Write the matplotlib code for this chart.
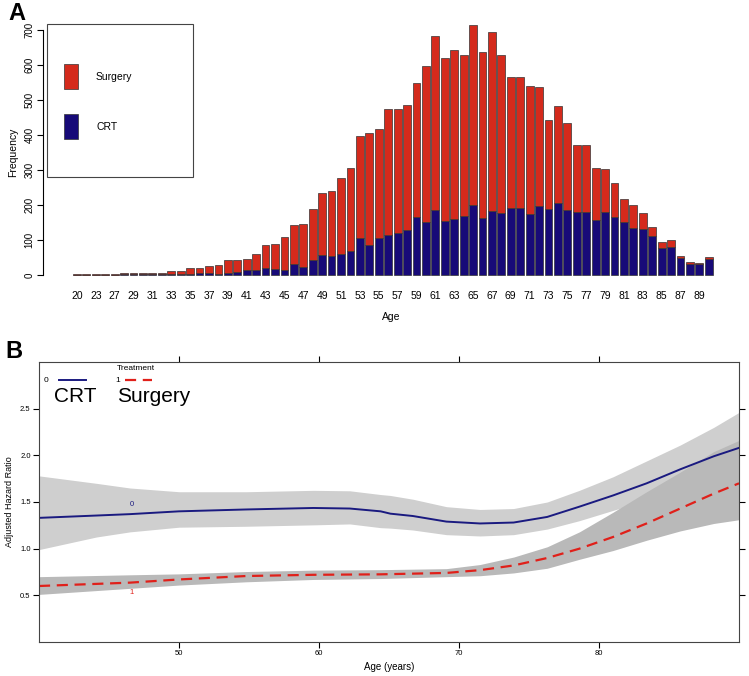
import matplotlib
matplotlib.use('Agg')
import matplotlib.pyplot as plt
import numpy as np

plt.rcParams['font.family'] = ['Liberation Sans', 'DejaVu Sans']

# ---- panel A data: patients by age ----
ages = [20, 21, 23, 25, 27, 28, 29, 30, 31, 32, 33, 34, 35, 36, 37, 38, 39, 40, 41, 42,
        43, 44, 45, 46, 47, 48, 49, 50, 51, 52, 53, 54, 55, 56, 57, 58, 59, 60, 61, 62,
        63, 64, 65, 66, 67, 68, 69, 70, 71, 72, 73, 74, 75, 76, 77, 78, 79, 80, 81, 82,
        83, 84, 85, 86, 87, 88, 89, 90]
total = [2, 2, 3, 3, 4, 6, 5, 7, 6, 6, 11, 10, 21, 19, 25, 29, 42, 42, 45, 60,
         85, 89, 109, 142, 147, 189, 233, 241, 278, 307, 397, 405, 416, 475, 475, 486, 548, 597, 684, 619,
         643, 629, 714, 636, 694, 629, 567, 565, 540, 537, 443, 483, 435, 371, 371, 307, 302, 264, 218, 200,
         176, 138, 95, 100, 54, 38, 33, 51]
crt = [1, 1, 1, 1, 1, 2, 2, 2, 2, 2, 2, 2, 3, 5, 5, 4, 6, 8, 14, 15,
       20, 17, 13, 32, 24, 42, 57, 54, 60, 69, 105, 86, 105, 114, 119, 129, 165, 150, 185, 154,
       161, 169, 199, 163, 184, 176, 192, 192, 174, 197, 188, 206, 185, 179, 180, 156, 180, 165, 150, 133,
       131, 112, 76, 80, 49, 32, 30, 47]
surgery = [t - c for t, c in zip(total, crt)]

# ---- panel B data: adjusted hazard ratio by age ----
crt_age = [40, 44.1, 46.5, 50, 54.8, 59.6, 62.2, 64.4, 65.1, 66.7, 69.1, 71.5, 73.9, 76.3, 78.6, 81.0, 83.4, 85.8, 88.2, 90]
crt_hr = [1.33, 1.355, 1.37, 1.40, 1.42, 1.436, 1.43, 1.40, 1.375, 1.35, 1.29, 1.27, 1.28, 1.34, 1.45, 1.57, 1.70, 1.85, 1.99, 2.08]
crt_hi = [1.78, 1.70, 1.65, 1.61, 1.61, 1.625, 1.62, 1.58, 1.57, 1.53, 1.45, 1.42, 1.43, 1.50, 1.625, 1.77, 1.94, 2.11, 2.30, 2.46]
crt_lo = [0.99, 1.125, 1.18, 1.23, 1.24, 1.255, 1.265, 1.225, 1.22, 1.20, 1.15, 1.136, 1.15, 1.21, 1.30, 1.41, 1.52, 1.62, 1.75, 1.85]

srg_age = [40, 46.5, 50, 54.8, 59.6, 64.4, 69.1, 71.5, 73.9, 76.3, 78.6, 81.0, 83.4, 85.8, 88.2, 90]
srg_hr = [0.60, 0.636, 0.67, 0.707, 0.72, 0.725, 0.74, 0.77, 0.82, 0.90, 1.00, 1.125, 1.27, 1.43, 1.59, 1.70]
srg_hi = [0.70, 0.72, 0.73, 0.755, 0.77, 0.775, 0.786, 0.83, 0.91, 1.02, 1.18, 1.39, 1.61, 1.82, 2.04, 2.16]
srg_lo = [0.51, 0.575, 0.61, 0.645, 0.67, 0.68, 0.70, 0.71, 0.74, 0.79, 0.886, 0.98, 1.09, 1.19, 1.27, 1.31]

W, H = 749, 676
fig = plt.figure(figsize=(W / 100, H / 100), dpi=100)

def box(l, t, r, b):
    return [l / W, 1 - b / H, (r - l) / W, (b - t) / H]

red = '#d42a1c'
navy = '#170a78'

# ---- A ----
axA = fig.add_axes(box(43, 25, 739, 280))
x = np.arange(len(ages))
axA.bar(x, crt, width=0.83, color=navy, edgecolor='#333333', linewidth=0.5)
axA.bar(x, surgery, bottom=crt, width=0.83, color=red, edgecolor='#333333', linewidth=0.5)
axA.set_xlim(-3.6, 70.2)
axA.set_ylim(-14.3, 714.3)
for s in ['top', 'right', 'bottom']:
    axA.spines[s].set_visible(False)
axA.spines['left'].set_bounds(0, 700)
axA.spines['left'].set_linewidth(0.8)
axA.set_yticks(range(0, 701, 100))
axA.set_yticklabels([str(v) for v in range(0, 701, 100)], rotation=90, va='center', fontsize=7)
axA.tick_params(axis='y', length=4, width=0.8, pad=2)
axA.set_xticks(x[::2])
axA.set_xticklabels([str(a) for a in ages[::2]], fontsize=7.5)
axA.tick_params(axis='x', length=0, pad=8)
axA.set_ylabel('Frequency', fontsize=7.5, labelpad=5)
axA.set_xlabel('Age', fontsize=7.5, labelpad=8)

# legend box
axA.add_patch(plt.Rectangle((47 / W, 1 - 177 / H), 146 / W, 153 / H, transform=fig.transFigure,
                            fill=False, edgecolor='#444444', linewidth=0.8, clip_on=False))
axA.add_patch(plt.Rectangle((64 / W, 1 - 89 / H), 14 / W, 25 / H, transform=fig.transFigure,
                            facecolor=red, edgecolor='#333333', linewidth=0.5, clip_on=False))
axA.add_patch(plt.Rectangle((64 / W, 1 - 139 / H), 14 / W, 25 / H, transform=fig.transFigure,
                            facecolor=navy, edgecolor='#333333', linewidth=0.5, clip_on=False))
fig.text(96 / W, 1 - 77 / H, 'Surgery', fontsize=7.5, va='center')
fig.text(96 / W, 1 - 127 / H, 'CRT', fontsize=7.5, va='center')

fig.text(8 / W, 1 - 13 / H, 'A', fontsize=17, fontweight='bold', va='center')
fig.text(5 / W, 1 - 352 / H, 'B', fontsize=17, fontweight='bold', va='center')

# ---- B ----
axB = fig.add_axes(box(39, 362, 739, 642))
axB.fill_between(crt_age, crt_lo, crt_hi, color='#cfcfcf', linewidth=0)
axB.fill_between(srg_age, srg_lo, srg_hi, color='#b9b9b9', linewidth=0)
axB.plot(crt_age, crt_hr, color='#1a1a80', linewidth=1.4)
axB.plot(srg_age, srg_hr, color='#e0201a', linewidth=1.6, dashes=(5, 3))
axB.set_xlim(40, 90)
axB.set_ylim(0, 3)
axB.set_xticks([50, 60, 70, 80])
axB.set_yticks([0.5, 1.0, 1.5, 2.0, 2.5])
axB.tick_params(axis='both', labelsize=5.5, length=4, width=0.8, direction='out',
                top=True, right=True, pad=2)
for s in axB.spines.values():
    s.set_linewidth(0.8)
    s.set_color('#444444')
axB.set_xlabel('Age (years)', fontsize=7, labelpad=3)
axB.set_ylabel('Adjusted Hazard Ratio', fontsize=6.5, labelpad=4)
axB.text(46.6, 1.47, '0', color='#1a1a80', fontsize=5.5, ha='center', va='center')
axB.text(46.6, 0.53, '1', color='#e0201a', fontsize=5.5, ha='center', va='center')

# treatment key
fig.text(136 / W, 1 - 369 / H, 'Treatment', fontsize=6, ha='center', va='center')
fig.text(46 / W, 1 - 380 / H, '0', fontsize=6, ha='center', va='center')
fig.text(118 / W, 1 - 380 / H, '1', fontsize=6, ha='center', va='center')
fig.add_artist(plt.Line2D([59 / W, 86 / W], [1 - 380 / H, 1 - 380 / H], color='#1a1a80', linewidth=1.4))
fig.add_artist(plt.Line2D([125 / W, 152 / W], [1 - 380 / H, 1 - 380 / H], color='#e0201a',
                          linewidth=1.6, dashes=(5, 3)))
fig.text(54 / W, 1 - 396 / H, 'CRT', fontsize=15, va='center')
fig.text(117 / W, 1 - 396 / H, 'Surgery', fontsize=15, va='center')

plt.savefig('out.png', dpi=100)
